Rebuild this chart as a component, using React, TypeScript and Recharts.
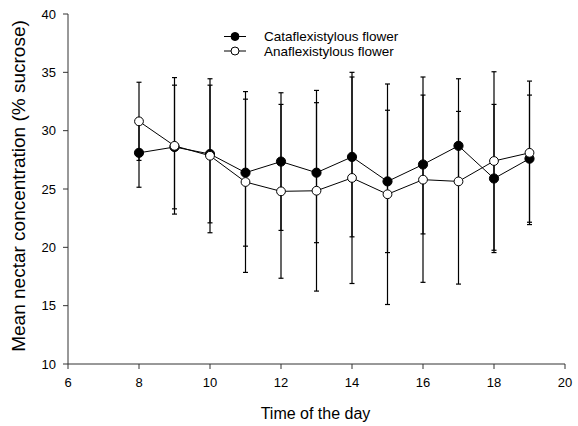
import React from 'react';
import { LineChart, Line, XAxis, YAxis, ErrorBar, Legend } from 'recharts';

const hours = [8, 9, 10, 11, 12, 13, 14, 15, 16, 17, 18, 19];
const cataMean = [28.1, 28.6, 28.0, 26.4, 27.35, 26.4, 27.75, 25.65, 27.1, 28.7, 25.9, 27.6];
const cataErr = [2.95, 5.3, 5.9, 6.3, 5.9, 6.0, 6.85, 6.1, 5.95, 2.95, 6.35, 5.45];
const anaMean = [30.8, 28.7, 27.85, 25.6, 24.8, 24.85, 25.95, 24.55, 25.8, 25.65, 27.4, 28.1];
const anaErr = [3.35, 5.85, 6.6, 7.75, 7.45, 8.6, 9.05, 9.45, 8.8, 8.8, 7.65, 6.15];

const xTicks = [6, 8, 10, 12, 14, 16, 18, 20];
const yTicks = [10, 15, 20, 25, 30, 35, 40];

const seriesNames = ['Cataflexistylous flower', 'Anaflexistylous flower'];
const xTitle = 'Time of the day';
const yTitle = 'Mean nectar concentration (% sucrose)';

const data = hours.map((h, i) => ({
  hour: h,
  cata: cataMean[i],
  cataErr: cataErr[i],
  ana: anaMean[i],
  anaErr: anaErr[i],
}));

const FONT = '"Liberation Sans", Arial, sans-serif';

const FilledDot = (props: any) => {
  const { cx, cy } = props;
  if (cx == null || cy == null) return null;
  return <circle cx={cx} cy={cy} r={4.6} fill="#000" stroke="#000" strokeWidth={1} />;
};
const OpenDot = (props: any) => {
  const { cx, cy } = props;
  if (cx == null || cy == null) return null;
  return <circle cx={cx} cy={cy} r={4.4} fill="#fff" stroke="#000" strokeWidth={1} />;
};

const LegendContent = () => (
  <svg width={578} height={70} style={{ display: 'block' }}>
    {seriesNames.map((name, i) => {
      const y = 36.5 + i * 14.5;
      return (
        <g key={name}>
          <line x1={224} y1={y} x2={246} y2={y} stroke="#000" strokeWidth={1} />
          <circle cx={235} cy={y} r={4} fill={i === 0 ? '#000' : '#fff'} stroke="#000" strokeWidth={1} />
          <text x={264} y={y} dominantBaseline="central" fontSize={13.5} fontFamily={FONT} fill="#000">
            {name}
          </text>
        </g>
      );
    })}
  </svg>
);

const YTitle = (props: any) => {
  const vb = props.viewBox || { x: 0, y: 14, width: 68, height: 351 };
  const x = 25;
  const y = vb.y + vb.height / 2 - 3;
  return (
    <text x={x} y={y} transform={`rotate(-90 ${x} ${y})`} textAnchor="middle" fontSize={19} fontFamily={FONT} fill="#000">
      {yTitle}
    </text>
  );
};

const XTitle = (props: any) => {
  const vb = props.viewBox || { x: 68, y: 365, width: 497, height: 61 };
  const x = vb.x + vb.width / 2 - 1;
  const y = 419;
  return (
    <text x={x} y={y} textAnchor="middle" fontSize={16} fontFamily={FONT} fill="#000">
      {xTitle}
    </text>
  );
};

export default function App() {
  return (
    <div style={{ position: 'absolute', left: 0, top: 0, width: 578, height: 426, background: '#fff' }}>
      <LineChart width={578} height={426} data={data} margin={{ top: 14, right: 13, bottom: 0, left: 0 }}>
        <XAxis
          dataKey="hour"
          type="number"
          domain={[6, 20]}
          ticks={xTicks}
          allowDecimals={false}
          height={62}
          tickSize={5}
          tickMargin={9}
          stroke="#333"
          tick={{ fill: '#000', fontSize: 13, fontFamily: FONT }}
          label={<XTitle />}
        />
        <YAxis
          type="number"
          domain={[10, 40]}
          ticks={yTicks}
          width={68}
          tickSize={5}
          tickMargin={7}
          stroke="#333"
          tick={{ fill: '#000', fontSize: 13, fontFamily: FONT }}
          label={<YTitle />}
        />
        <Legend layout="vertical" align="center" verticalAlign="middle" content={<LegendContent />}
          wrapperStyle={{ position: 'absolute', left: 0, top: 0, width: 578, height: 70 }} />
        <Line
          dataKey="cata"
          name={seriesNames[0]}
          stroke="#000"
          strokeWidth={1}
          dot={<FilledDot />}
          activeDot={false}
          isAnimationActive={false}
        >
          <ErrorBar dataKey="cataErr" width={2.5} stroke="#000" strokeWidth={1.2} direction="y" isAnimationActive={false} />
        </Line>
        <Line
          dataKey="ana"
          name={seriesNames[1]}
          stroke="#000"
          strokeWidth={1}
          dot={<OpenDot />}
          activeDot={false}
          isAnimationActive={false}
        >
          <ErrorBar dataKey="anaErr" width={2.5} stroke="#000" strokeWidth={1.2} direction="y" isAnimationActive={false} />
        </Line>
      </LineChart>
    </div>
  );
}
